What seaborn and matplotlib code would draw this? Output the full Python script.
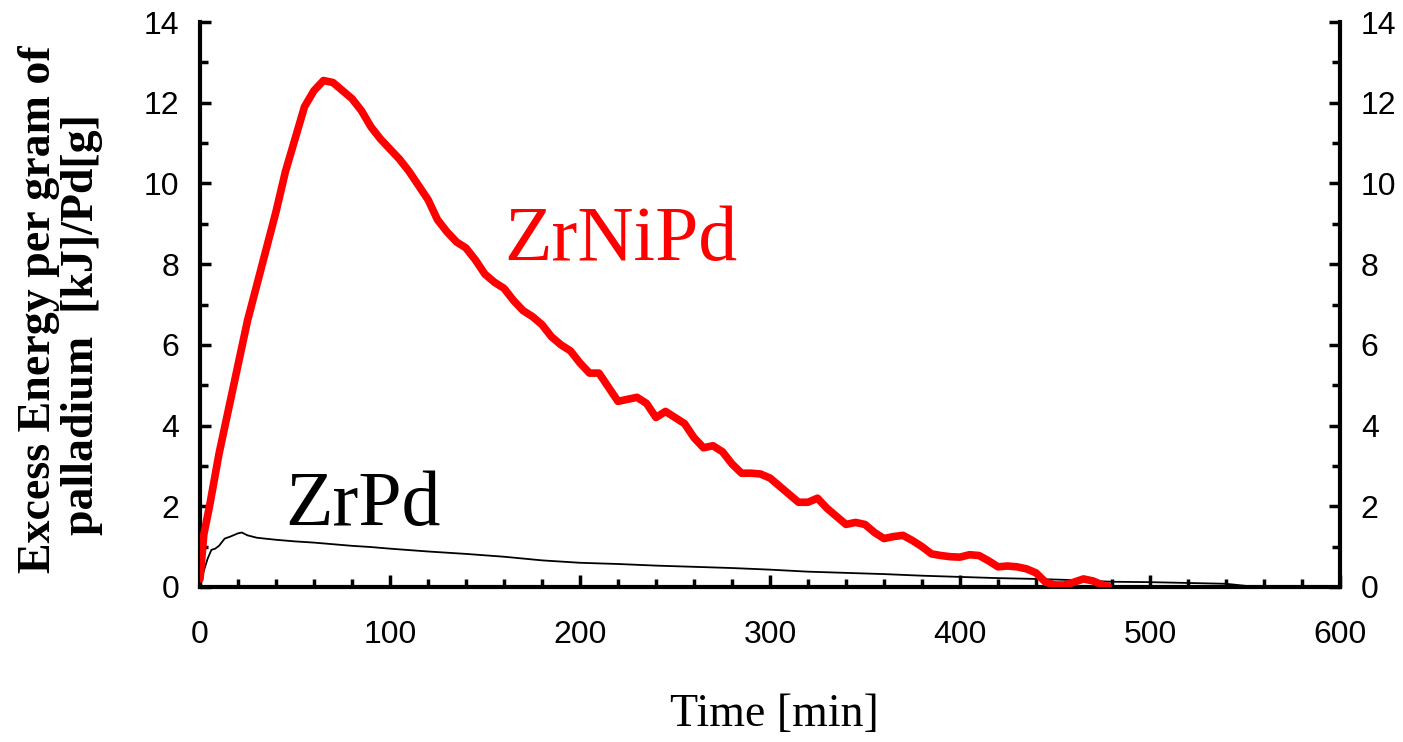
import matplotlib
matplotlib.use("Agg")
import matplotlib.pyplot as plt
from matplotlib.ticker import MultipleLocator
import seaborn as sns
import pandas as pd

# ZrNiPd excess energy [kJ / g Pd] vs time [min]
zrnipd_time = [0, 2, 5, 10, 15, 20, 25, 30, 35, 40, 45, 50, 55, 60, 65, 70, 75, 80,
               85, 90, 95, 100, 105, 110, 115, 120, 125, 130, 135, 140, 145, 150,
               155, 160, 165, 170, 175, 180, 185, 190, 195, 200, 205, 210, 215, 220,
               225, 230, 235, 240, 245, 250, 255, 260, 265, 270, 275, 280, 285, 290,
               295, 300, 305, 310, 315, 320, 325, 330, 335, 340, 345, 350, 355, 360,
               365, 370, 375, 380, 385, 390, 395, 400, 405, 410, 415, 420, 425, 430,
               435, 440, 445, 450, 455, 460, 465, 470, 475, 478]
zrnipd_energy = [0.2, 1.3, 2.0, 3.3, 4.4, 5.5, 6.6, 7.5, 8.4, 9.3, 10.3, 11.1, 11.9,
                 12.3, 12.55, 12.5, 12.3, 12.1, 11.8, 11.4, 11.1, 10.85, 10.6, 10.3,
                 9.95, 9.6, 9.1, 8.8, 8.55, 8.4, 8.1, 7.75, 7.55, 7.4, 7.1, 6.85, 6.7,
                 6.5, 6.2, 6.0, 5.85, 5.55, 5.3, 5.3, 4.95, 4.6, 4.65, 4.7, 4.55, 4.2,
                 4.35, 4.2, 4.05, 3.7, 3.45, 3.5, 3.35, 3.05, 2.82, 2.82, 2.8, 2.7,
                 2.5, 2.3, 2.1, 2.1, 2.2, 1.95, 1.75, 1.55, 1.6, 1.55, 1.35, 1.2, 1.25,
                 1.28, 1.15, 1.0, 0.82, 0.78, 0.75, 0.74, 0.8, 0.78, 0.65, 0.5, 0.52,
                 0.5, 0.45, 0.35, 0.12, 0.05, 0.05, 0.12, 0.2, 0.15, 0.05, 0.02]

# ZrPd excess energy [kJ / g Pd] vs time [min]
zrpd_time = [0, 2, 4, 6, 8, 10, 13, 16, 20, 22, 25, 30, 40, 50, 60, 70, 80, 90, 100,
             120, 140, 160, 180, 200, 220, 240, 260, 280, 300, 320, 340, 360, 380,
             400, 420, 440, 460, 480, 500, 520, 540, 550, 555]
zrpd_energy = [0.0, 0.4, 0.7, 0.92, 0.95, 1.02, 1.2, 1.25, 1.33, 1.35, 1.28, 1.22,
               1.17, 1.13, 1.1, 1.06, 1.02, 0.99, 0.95, 0.88, 0.82, 0.75, 0.66, 0.6,
               0.57, 0.53, 0.5, 0.47, 0.43, 0.38, 0.35, 0.32, 0.28, 0.25, 0.22, 0.2,
               0.17, 0.13, 0.12, 0.1, 0.08, 0.03, 0.0]

x_ticks = [0, 100, 200, 300, 400, 500, 600]
y_ticks = [0, 2, 4, 6, 8, 10, 12, 14]

sns.set_theme(style="ticks")
plt.rcParams["font.family"] = ["Liberation Sans", "DejaVu Sans"]

fig = plt.figure(figsize=(14.03, 7.42), dpi=100)
ax = fig.add_axes([200 / 1403, 1 - 587 / 742, 1140 / 1403, 565 / 742])

df_black = pd.DataFrame({"t": zrpd_time, "e": zrpd_energy})
df_red = pd.DataFrame({"t": zrnipd_time, "e": zrnipd_energy})
sns.lineplot(data=df_black, x="t", y="e", ax=ax, color="black", linewidth=1.3,
             estimator=None, sort=False, zorder=3)
sns.lineplot(data=df_red, x="t", y="e", ax=ax, color="#ff0000", linewidth=5.5,
             estimator=None, sort=False, zorder=4)

ax.set_xlim(0, 600)
ax.set_ylim(0, 14)
ax.set_xticks(x_ticks)
ax.set_yticks(y_ticks)
ax.xaxis.set_minor_locator(MultipleLocator(20))
ax.yaxis.set_minor_locator(MultipleLocator(1))

for side in ["left", "right", "bottom"]:
    ax.spines[side].set_linewidth(3)
    ax.spines[side].set_color("black")
ax.spines["top"].set_visible(False)

ax.tick_params(axis="both", which="both", direction="in", color="black",
               width=2.5, labelcolor="black")
ax.tick_params(axis="y", which="major", length=8, left=True, right=True,
               labelleft=True, labelright=True, labelsize=23, pad=15)
ax.tick_params(axis="y", which="minor", length=6, left=True, right=True)
ax.tick_params(axis="x", which="major", length=9, top=False, labelsize=23, pad=24)
ax.tick_params(axis="x", which="minor", length=6, top=False)

ax.set_xlabel("")
ax.set_ylabel("")

serif = ["Liberation Serif", "DejaVu Serif"]
fig.text(774 / 1403, 1 - 715 / 742, "Time [min]", family=serif, fontsize=33,
         ha="center", va="center", color="black")
# two-line vertical axis title, each line anchored on its baseline
fig.text(50 / 1403, 1 - 309 / 742, "Excess Energy per gram of",
         family=serif, fontsize=33, fontweight="bold", rotation=90,
         rotation_mode="anchor", ha="center", va="baseline", color="black")
fig.text(93 / 1403, 1 - 325 / 742, "palladium  [kJ]/Pd[g]",
         family=serif, fontsize=33, fontweight="bold", rotation=90,
         rotation_mode="anchor", ha="center", va="baseline", color="black")

ax.text(160, 8.1, "ZrNiPd", family=serif, fontsize=56, color="#ff0000",
        ha="left", va="baseline")
ax.text(44.7, 1.54, "ZrPd", family=serif, fontsize=56, color="black",
        ha="left", va="baseline")

fig.savefig("out.png", dpi=100, facecolor="white")
